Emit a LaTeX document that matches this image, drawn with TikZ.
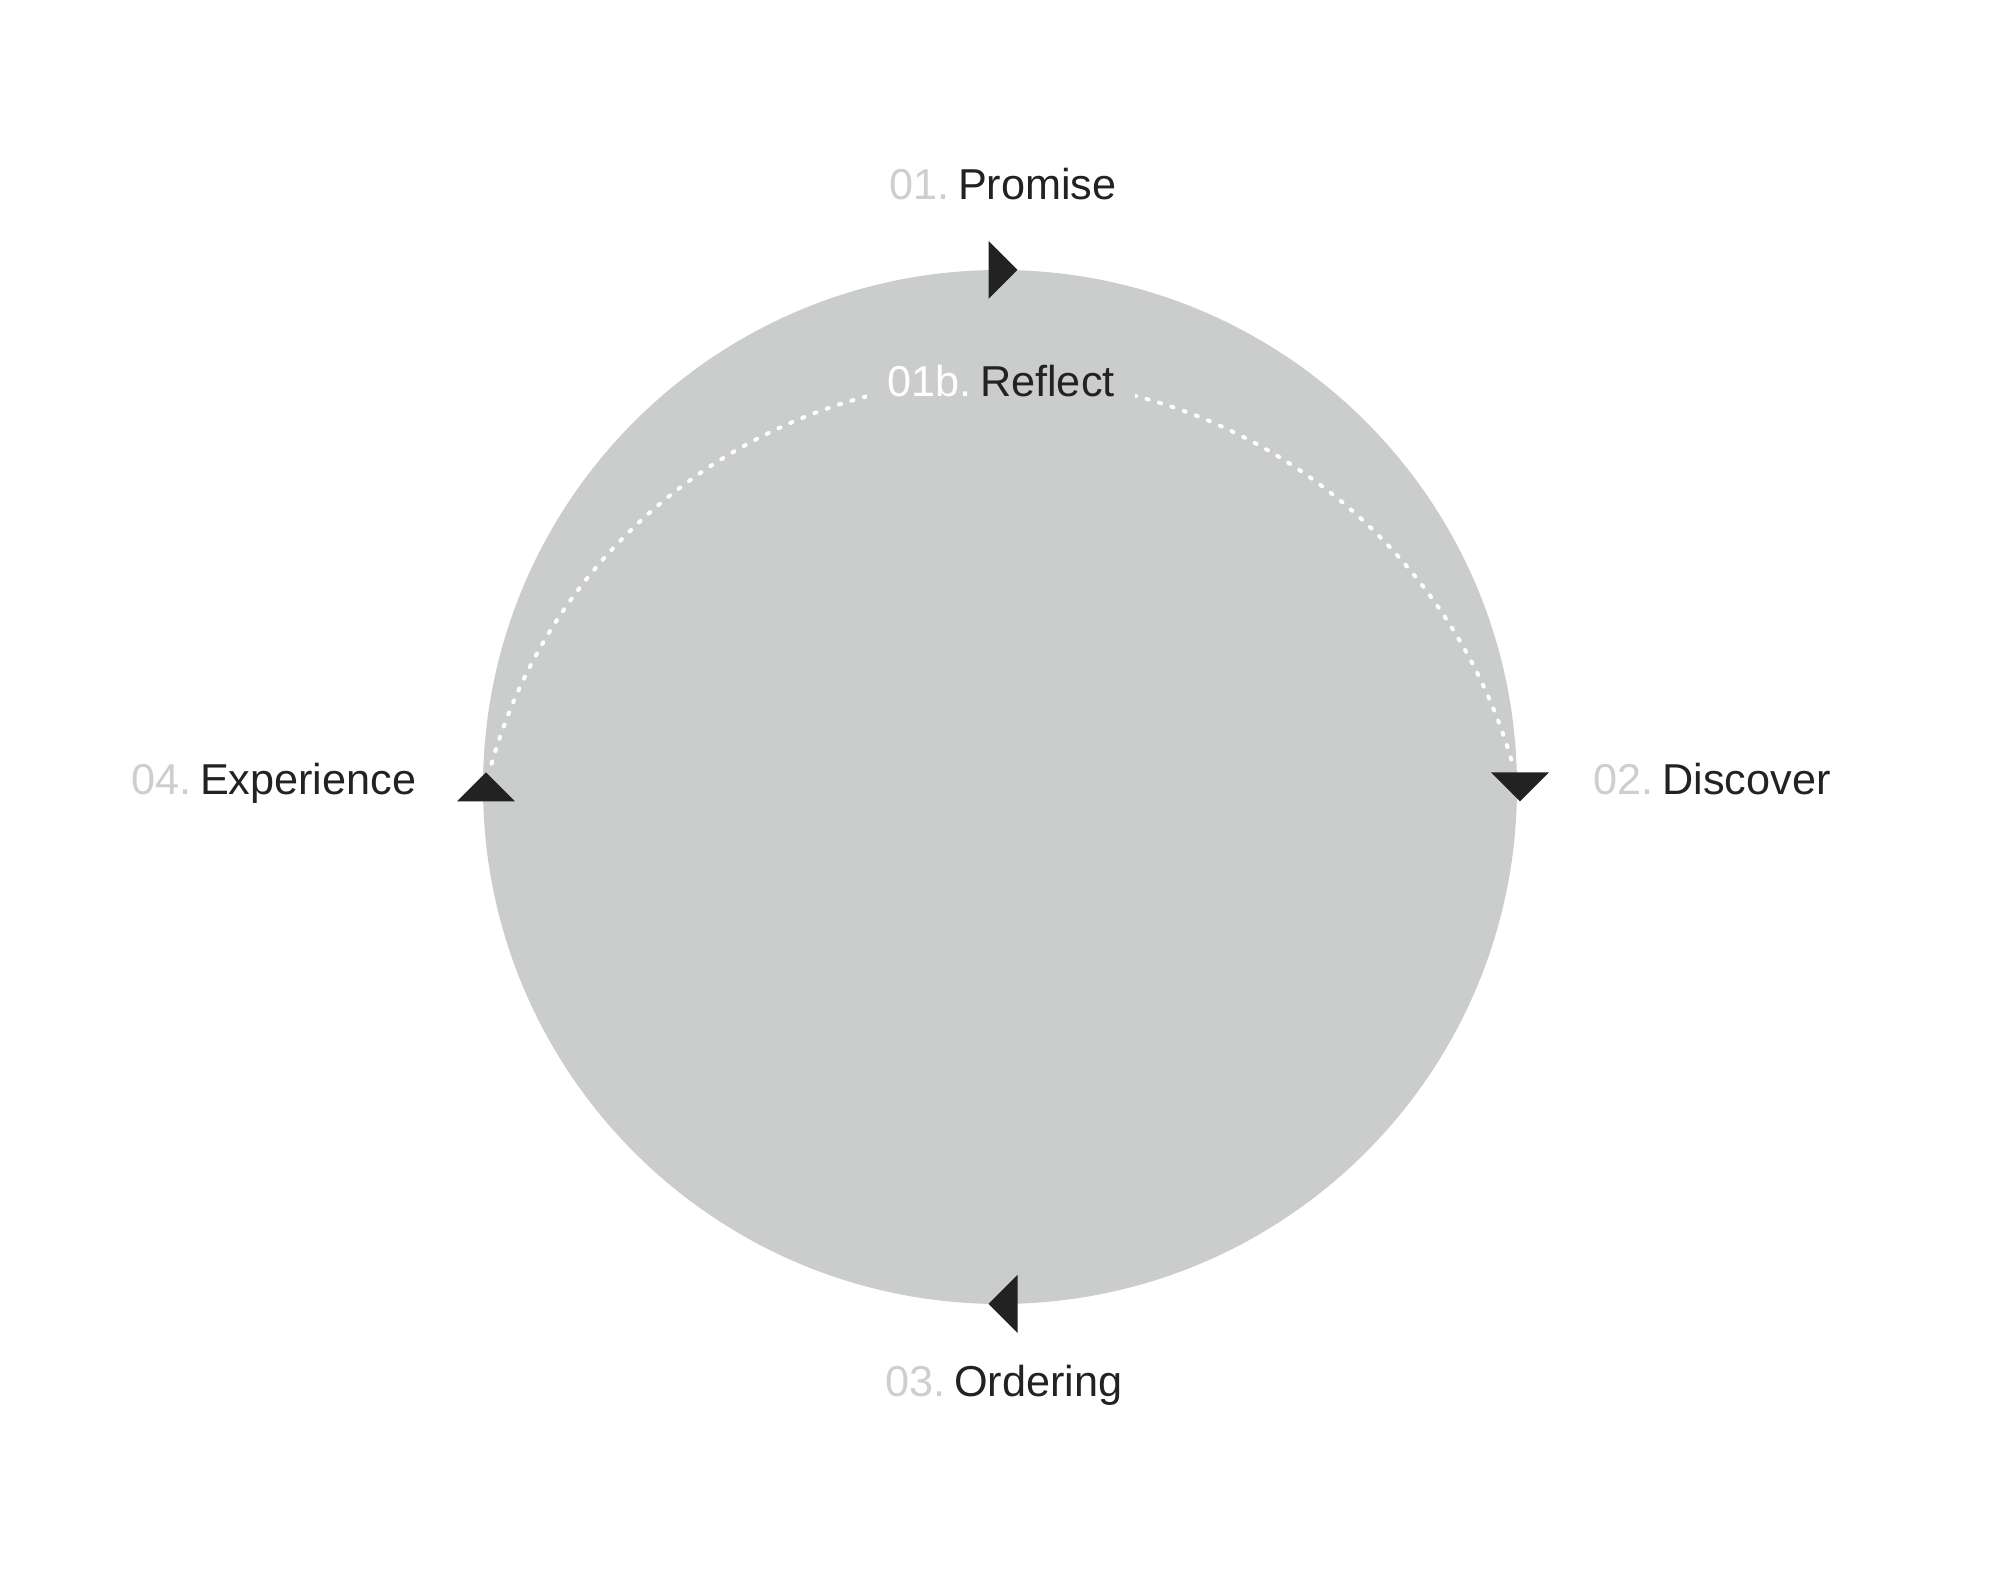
\documentclass[tikz,border=0pt]{standalone}
\usepackage{fontspec}
\setmainfont{Liberation Sans}
\usepackage{tikz}
\usetikzlibrary{positioning}

\definecolor{discgray}{RGB}{203,205,204}
\definecolor{inkdark}{RGB}{34,34,34}
\definecolor{numgray}{RGB}{206,206,206}

\newcommand{\stagenum}[2][numgray]{\textcolor{#1}{#2}\hspace{0.2em}}

\begin{document}
\begin{tikzpicture}[font=\fontsize{12.3}{14}\selectfont,
	stagelabel/.style={inner sep=0pt, text=inkdark},
	turnmark/.style={fill=inkdark},
	dotline/.style={draw=white, line width=1.15pt, line cap=round, dash pattern=on 0.6pt off 3.1pt}]
	\useasboundingbox (0,0) rectangle (20,15.8);
	\coordinate (hub) at (10.00,7.93);
	\coordinate (markhub) at (10.03,7.93);
	\fill[discgray] (hub) circle (5.17);
	\coordinate (arcleft) at (4.916,8.164);
	\draw[dotline] (arcleft) arc[start angle=164, end angle=16, radius=5.31];
	\foreach \ang in {90,0,-90,180}
		\fill[turnmark, shift={(markhub)}, rotate=\ang] (5.17,-0.145) -- (4.88,0.145) -- (5.46,0.145) -- cycle;
	\node[stagelabel, anchor=base] (promise) at (10.03,13.80) {\stagenum{01.}Promise};
	\node[stagelabel, anchor=base, fill=discgray, inner xsep=0.2cm, inner ysep=0.1cm] (reflect) at (10.01,11.83) {\stagenum[white]{01b.}Reflect};
	\node[stagelabel, anchor=base west] (discover) at (15.93,7.85) {\stagenum{02.}Discover};
	\node[stagelabel, anchor=base] (ordering) at (10.04,1.83) {\stagenum{03.}Ordering};
	\node[stagelabel, anchor=base east] (experience) at (4.17,7.85) {\stagenum{04.}Experience};
\end{tikzpicture}
\end{document}
